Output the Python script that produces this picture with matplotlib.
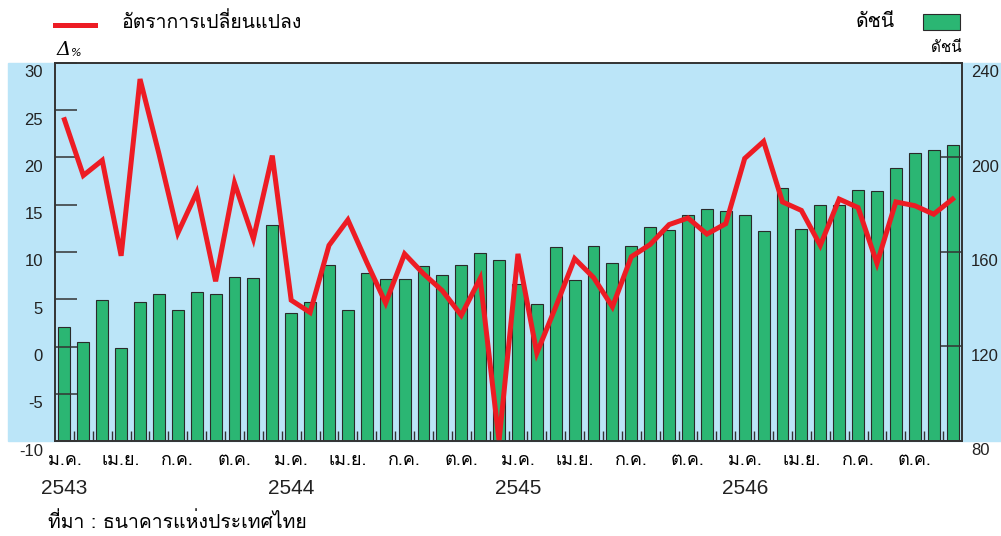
import numpy as np
import matplotlib
matplotlib.use("Agg")
import matplotlib.pyplot as plt
from matplotlib import font_manager as fm
from matplotlib import transforms
from matplotlib.ft2font import FT2Font
from matplotlib.patches import Rectangle
from matplotlib.lines import Line2D

# monthly data, Jan 2543 .. Dec 2546
change = [24.0, 18.1, 19.7, 9.6, 28.3, 20.4, 12.0, 16.3, 6.9, 17.3, 11.4, 20.2,
          4.9, 3.6, 10.7, 13.4, 8.9, 4.6, 9.8, 7.7, 5.9, 3.3, 7.2, -10.0,
          9.8, -0.7, 4.2, 9.3, 7.3, 4.2, 9.5, 10.8, 12.9, 13.6, 11.9, 13.0,
          19.9, 21.7, 15.3, 14.4, 10.7, 15.6, 14.7, 8.8, 15.3, 14.9, 14.0, 15.6]
index = [128.1, 122.1, 139.5, 119.3, 138.7, 142.1, 135.3, 142.9, 142.1, 149.3, 148.8, 171.3,
         134.2, 138.7, 154.4, 135.3, 151.1, 148.7, 148.4, 153.9, 150.1, 154.4, 159.4, 156.8,
         146.3, 138.1, 162.0, 148.2, 162.4, 155.4, 162.4, 170.5, 169.5, 175.7, 178.3, 177.3,
         175.7, 168.7, 187.2, 169.6, 179.8, 179.8, 186.3, 185.8, 195.7, 201.7, 203.3, 205.3]
month_labels = ["ม.ค.", "เม.ย.", "ก.ค.", "ต.ค."] * 4
year_labels = ["2543", "2544", "2545", "2546"]
left_ticks = [-10, -5, 0, 5, 10, 15, 20, 25, 30]
right_ticks = [80, 120, 160, 200, 240]


def find_thai_font():
    for f in fm.fontManager.ttflist:
        try:
            if 0x0E01 in FT2Font(f.fname).get_charmap():
                return f.name
        except Exception:
            pass
    return "DejaVu Sans"


thai = [find_thai_font(), "DejaVu Sans"]
num_font = "Liberation Sans"

RED = "#ed1c24"
GREEN = "#2bb673"
BLUE = "#bbe5f8"
DARK = "#333333"

fig = plt.figure(figsize=(10.01, 5.36), dpi=100)
W, H = 1001.0, 536.0
x0, x1, ytop, ybot = 55, 962, 63, 441
ax = fig.add_axes([x0 / W, 1 - ybot / H, (x1 - x0) / W, (ybot - ytop) / H])
ax2 = ax.twinx()

# light blue band behind the plot
fig.add_artist(Rectangle((8 / W, 1 - ybot / H), 1 - 8 / W, (ybot - ytop) / H,
                         transform=fig.transFigure, color=BLUE, zorder=-10))
ax.patch.set_visible(False)
ax2.patch.set_visible(False)
ax.set_zorder(ax2.get_zorder() + 1)

n = len(change)
x = np.arange(n)
ax2.bar(x, index, width=0.63, bottom=0, color=GREEN, edgecolor="#2a2a2a", linewidth=0.8)
ax2.set_ylim(80, 240)
ax.plot(x, change, color=RED, lw=3.6, solid_joinstyle="miter")
ax.set_ylim(-10, 30)
ax.set_xlim(-0.5, n - 0.5)

for a in (ax, ax2):
    for s in a.spines.values():
        s.set_color(DARK)
        s.set_linewidth(1.2)

ax.set_yticks(left_ticks)
ax.tick_params(axis="y", direction="in", length=16, width=1.1, color=DARK, labelleft=False)
ax2.set_yticks(right_ticks)
ax2.tick_params(axis="y", direction="in", length=15, width=1.1, color=DARK, labelright=False)

ax.set_xticks(np.arange(0, n, 3))
ax.set_xticklabels(month_labels, family=thai, fontsize=13)
ax.set_xticks(np.arange(0.5, n - 1, 1), minor=True)
ax.tick_params(axis="x", which="major", length=0, pad=7)
ax.tick_params(axis="x", which="minor", direction="in", length=7, width=1.0, color=DARK)

# y tick labels sit a little below their ticks
tl = transforms.offset_copy(ax.get_yaxis_transform(), fig=fig, x=-12, y=-10, units="dots")
for v in left_ticks:
    ax.text(0, v, str(v), transform=tl, ha="right", va="center",
            fontsize=12, family=num_font, color="#222222")
tr = transforms.offset_copy(ax2.get_yaxis_transform(), fig=fig, x=9, y=-10, units="dots")
for v in right_ticks:
    ax2.text(1, v, str(v), transform=tr, ha="left", va="center",
             fontsize=12, family=num_font, color="#222222")

ty = transforms.offset_copy(ax.get_xaxis_transform(), fig=fig, y=-47, units="dots")
for i, yl in enumerate(year_labels):
    ax.text(i * 12, 0, yl, transform=ty, ha="center", va="center",
            fontsize=15, family=num_font, color="#222222")

# axis unit labels
fig.text(57 / W, 1 - 50 / H, "Δ", style="italic", fontsize=14, family="DejaVu Serif",
         va="center", ha="left")
fig.text(71 / W, 1 - 53 / H, "%", style="italic", fontsize=8, family="DejaVu Sans",
         va="center", ha="left")
fig.text(962 / W, 1 - 48 / H, "ดัชนี", fontsize=11, family=thai, ha="right", va="center")

# legend
fig.add_artist(Line2D([55 / W, 95 / W], [1 - 25 / H, 1 - 25 / H], color=RED, lw=3.6,
                      transform=fig.transFigure))
fig.text(122 / W, 1 - 22 / H, "อัตราการเปลี่ยนแปลง", fontsize=14, family=thai,
         ha="left", va="center")
fig.text(895 / W, 1 - 22 / H, "ดัชนี", fontsize=14, family=thai, ha="right", va="center")
fig.add_artist(Rectangle((923 / W, 1 - 30 / H), 37 / W, 16 / H, transform=fig.transFigure,
                         facecolor=GREEN, edgecolor="#2a2a2a", linewidth=0.8))

fig.text(48 / W, 1 - 522 / H, "ที่มา : ธนาคารแห่งประเทศไทย", fontsize=14, family=thai,
         ha="left", va="center")

fig.savefig("out.png", dpi=100)
